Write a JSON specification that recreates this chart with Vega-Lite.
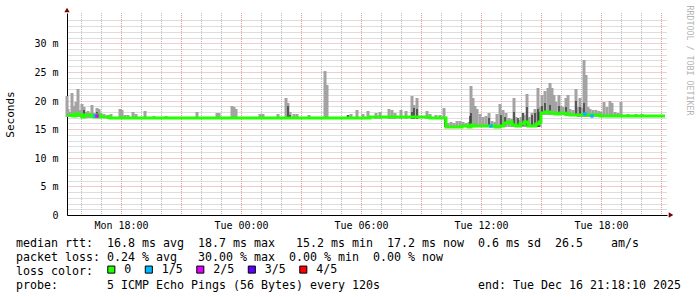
{
  "$schema": "https://vega.github.io/schema/vega-lite/v6.json",
  "width": 600,
  "height": 202,
  "autosize": {"type": "none"},
  "padding": {"left": 67, "top": 13, "right": 30, "bottom": 82},
  "background": "white",
  "config": {"view": {"stroke": null}},
  "title": {
    "text": [
      "median rtt:\u00a0\u00a016.8 ms avg\u00a0\u00a018.7 ms max\u00a0\u00a0\u00a015.2 ms min\u00a0\u00a017.2 ms now\u00a0\u00a00.6 ms sd\u00a0\u00a026.5\u00a0\u00a0\u00a0\u00a0am/s",
      "packet loss: 0.24 % avg\u00a0\u00a0\u00a030.00 % max\u00a0\u00a00.00 % min\u00a0\u00a00.00 % now",
      "loss color:",
      "probe:\u00a0\u00a0\u00a0\u00a0\u00a0\u00a0\u00a05 ICMP Echo Pings (56 Bytes) every 120s\u00a0\u00a0\u00a0\u00a0\u00a0\u00a0\u00a0\u00a0\u00a0\u00a0\u00a0\u00a0\u00a0\u00a0end: Tue Dec 16 21:18:10 2025"
    ],
    "orient": "bottom",
    "anchor": "start",
    "frame": "group",
    "dx": -51,
    "offset": -29,
    "font": "DejaVu Sans Mono",
    "fontSize": 11.63,
    "fontWeight": "normal",
    "color": "#000000",
    "lineHeight": 14,
    "baseline": "alphabetic"
  },
  "datasets": {
    "hourGrid": [
      {"t": "2025-12-15T16:00"}, {"t": "2025-12-15T17:00"}, {"t": "2025-12-15T18:00"}, {"t": "2025-12-15T19:00"},
      {"t": "2025-12-15T20:00"}, {"t": "2025-12-15T21:00"}, {"t": "2025-12-15T22:00"}, {"t": "2025-12-15T23:00"},
      {"t": "2025-12-16T00:00"}, {"t": "2025-12-16T01:00"}, {"t": "2025-12-16T02:00"}, {"t": "2025-12-16T03:00"},
      {"t": "2025-12-16T04:00"}, {"t": "2025-12-16T05:00"}, {"t": "2025-12-16T06:00"}, {"t": "2025-12-16T07:00"},
      {"t": "2025-12-16T08:00"}, {"t": "2025-12-16T09:00"}, {"t": "2025-12-16T10:00"}, {"t": "2025-12-16T11:00"},
      {"t": "2025-12-16T12:00"}, {"t": "2025-12-16T13:00"}, {"t": "2025-12-16T14:00"}, {"t": "2025-12-16T15:00"},
      {"t": "2025-12-16T16:00"}, {"t": "2025-12-16T17:00"}, {"t": "2025-12-16T18:00"}, {"t": "2025-12-16T19:00"},
      {"t": "2025-12-16T20:00"}, {"t": "2025-12-16T21:00"}
    ],
    "majorGrid": [
      {"t": "2025-12-15T18:00"}, {"t": "2025-12-15T21:00"}, {"t": "2025-12-16T00:00"}, {"t": "2025-12-16T03:00"},
      {"t": "2025-12-16T06:00"}, {"t": "2025-12-16T09:00"}, {"t": "2025-12-16T12:00"}, {"t": "2025-12-16T15:00"},
      {"t": "2025-12-16T18:00"}, {"t": "2025-12-16T21:00"}
    ],
    "med": [
      {"t": "2025-12-15T15:18", "v": 17.4},
      {"t": "2025-12-15T15:27", "v": 17.5},
      {"t": "2025-12-15T15:36", "v": 17.3},
      {"t": "2025-12-15T15:45", "v": 17.6},
      {"t": "2025-12-15T15:54", "v": 17.4},
      {"t": "2025-12-15T16:03", "v": 17.2},
      {"t": "2025-12-15T16:12", "v": 17.4},
      {"t": "2025-12-15T16:21", "v": 17.5},
      {"t": "2025-12-15T16:30", "v": 17.3},
      {"t": "2025-12-15T16:39", "v": 17.2},
      {"t": "2025-12-15T16:48", "v": 17.4},
      {"t": "2025-12-15T16:57", "v": 17.2},
      {"t": "2025-12-15T17:09", "v": 17.1},
      {"t": "2025-12-15T17:27", "v": 17.0},
      {"t": "2025-12-15T18:27", "v": 16.95},
      {"t": "2025-12-15T19:57", "v": 17.0},
      {"t": "2025-12-15T21:27", "v": 16.95},
      {"t": "2025-12-15T22:57", "v": 17.0},
      {"t": "2025-12-16T00:27", "v": 16.95},
      {"t": "2025-12-16T01:57", "v": 17.0},
      {"t": "2025-12-16T03:27", "v": 16.95},
      {"t": "2025-12-16T04:57", "v": 17.0},
      {"t": "2025-12-16T06:27", "v": 17.05},
      {"t": "2025-12-16T07:57", "v": 17.1},
      {"t": "2025-12-16T09:27", "v": 17.0},
      {"t": "2025-12-16T10:15", "v": 15.45},
      {"t": "2025-12-16T10:42", "v": 15.4},
      {"t": "2025-12-16T11:03", "v": 15.5},
      {"t": "2025-12-16T11:21", "v": 15.4},
      {"t": "2025-12-16T11:30", "v": 15.8},
      {"t": "2025-12-16T11:39", "v": 15.6},
      {"t": "2025-12-16T11:57", "v": 15.5},
      {"t": "2025-12-16T12:15", "v": 15.6},
      {"t": "2025-12-16T12:27", "v": 15.5},
      {"t": "2025-12-16T12:42", "v": 15.4},
      {"t": "2025-12-16T12:57", "v": 15.5},
      {"t": "2025-12-16T13:09", "v": 16.0},
      {"t": "2025-12-16T13:21", "v": 16.3},
      {"t": "2025-12-16T13:33", "v": 15.8},
      {"t": "2025-12-16T13:45", "v": 15.5},
      {"t": "2025-12-16T13:57", "v": 15.9},
      {"t": "2025-12-16T14:09", "v": 16.2},
      {"t": "2025-12-16T14:21", "v": 15.6},
      {"t": "2025-12-16T14:33", "v": 15.5},
      {"t": "2025-12-16T14:45", "v": 15.9},
      {"t": "2025-12-16T14:54", "v": 16.2},
      {"t": "2025-12-16T15:00", "v": 17.9},
      {"t": "2025-12-16T15:12", "v": 18.0},
      {"t": "2025-12-16T15:27", "v": 17.9},
      {"t": "2025-12-16T15:42", "v": 17.7},
      {"t": "2025-12-16T15:57", "v": 17.9},
      {"t": "2025-12-16T16:12", "v": 17.6},
      {"t": "2025-12-16T16:27", "v": 17.5},
      {"t": "2025-12-16T16:42", "v": 17.5},
      {"t": "2025-12-16T16:57", "v": 17.4},
      {"t": "2025-12-16T17:12", "v": 17.5},
      {"t": "2025-12-16T17:27", "v": 17.4},
      {"t": "2025-12-16T17:57", "v": 17.3},
      {"t": "2025-12-16T18:57", "v": 17.35},
      {"t": "2025-12-16T19:57", "v": 17.3},
      {"t": "2025-12-16T20:42", "v": 17.25},
      {"t": "2025-12-16T21:12", "v": 17.25}
    ],
    "loss": [
      {"t": "2025-12-15T16:42", "v": 17.3, "loss": "1/5"},
      {"t": "2025-12-15T16:48", "v": 17.3, "loss": "2/5"},
      {"t": "2025-12-16T12:30", "v": 15.6, "loss": "1/5"},
      {"t": "2025-12-16T17:12", "v": 17.7, "loss": "1/5"},
      {"t": "2025-12-16T17:33", "v": 17.3, "loss": "1/5"}
    ],
    "smoke": [
      {"t": "2025-12-15T15:18", "lo": 17.1, "hi": 20.8},
      {"t": "2025-12-15T15:21", "lo": 17.1, "hi": 18.5},
      {"t": "2025-12-15T15:27", "lo": 17.1, "hi": 18.0},
      {"t": "2025-12-15T15:33", "lo": 17.1, "hi": 21.3},
      {"t": "2025-12-15T15:39", "lo": 17.1, "hi": 19.0},
      {"t": "2025-12-15T15:45", "lo": 17.1, "hi": 19.8},
      {"t": "2025-12-15T15:51", "lo": 17.1, "hi": 22.0},
      {"t": "2025-12-15T15:57", "lo": 17.1, "hi": 18.3},
      {"t": "2025-12-15T16:03", "lo": 17.0, "hi": 19.4},
      {"t": "2025-12-15T16:09", "lo": 17.0, "hi": 18.8},
      {"t": "2025-12-15T16:15", "lo": 17.0, "hi": 18.0},
      {"t": "2025-12-15T16:21", "lo": 17.0, "hi": 18.2},
      {"t": "2025-12-15T16:27", "lo": 17.0, "hi": 17.8},
      {"t": "2025-12-15T16:33", "lo": 17.0, "hi": 19.25},
      {"t": "2025-12-15T16:39", "lo": 17.0, "hi": 17.9},
      {"t": "2025-12-15T16:48", "lo": 17.0, "hi": 18.7},
      {"t": "2025-12-15T16:54", "lo": 17.0, "hi": 18.5},
      {"t": "2025-12-15T17:00", "lo": 16.9, "hi": 17.9},
      {"t": "2025-12-15T17:09", "lo": 16.9, "hi": 17.6},
      {"t": "2025-12-15T17:21", "lo": 16.8, "hi": 17.5},
      {"t": "2025-12-15T17:30", "lo": 16.8, "hi": 17.6},
      {"t": "2025-12-15T17:57", "lo": 16.8, "hi": 18.6},
      {"t": "2025-12-15T18:03", "lo": 16.8, "hi": 18.3},
      {"t": "2025-12-15T18:12", "lo": 16.8, "hi": 17.5},
      {"t": "2025-12-15T18:21", "lo": 16.8, "hi": 17.4},
      {"t": "2025-12-15T18:36", "lo": 16.8, "hi": 17.95},
      {"t": "2025-12-15T18:45", "lo": 16.8, "hi": 17.7},
      {"t": "2025-12-15T19:12", "lo": 16.8, "hi": 18.2},
      {"t": "2025-12-15T19:39", "lo": 16.8, "hi": 17.3},
      {"t": "2025-12-15T20:15", "lo": 16.8, "hi": 17.3},
      {"t": "2025-12-15T21:48", "lo": 16.8, "hi": 18.0},
      {"t": "2025-12-15T22:48", "lo": 16.8, "hi": 17.9},
      {"t": "2025-12-15T22:54", "lo": 16.8, "hi": 17.8},
      {"t": "2025-12-15T23:33", "lo": 16.8, "hi": 19.1},
      {"t": "2025-12-15T23:39", "lo": 16.8, "hi": 18.9},
      {"t": "2025-12-15T23:45", "lo": 16.8, "hi": 18.6},
      {"t": "2025-12-16T00:57", "lo": 16.8, "hi": 17.7},
      {"t": "2025-12-16T01:06", "lo": 16.8, "hi": 17.7},
      {"t": "2025-12-16T01:51", "lo": 16.8, "hi": 17.6},
      {"t": "2025-12-16T02:15", "lo": 16.8, "hi": 20.5},
      {"t": "2025-12-16T02:21", "lo": 16.8, "hi": 19.6},
      {"t": "2025-12-16T02:27", "lo": 16.8, "hi": 18.0},
      {"t": "2025-12-16T02:39", "lo": 16.8, "hi": 17.7},
      {"t": "2025-12-16T02:48", "lo": 16.8, "hi": 17.7},
      {"t": "2025-12-16T03:24", "lo": 16.8, "hi": 17.4},
      {"t": "2025-12-16T04:12", "lo": 16.8, "hi": 25.25},
      {"t": "2025-12-16T04:18", "lo": 16.8, "hi": 22.75},
      {"t": "2025-12-16T05:21", "lo": 16.8, "hi": 17.4},
      {"t": "2025-12-16T05:30", "lo": 16.8, "hi": 17.6},
      {"t": "2025-12-16T05:48", "lo": 16.8, "hi": 18.4},
      {"t": "2025-12-16T06:06", "lo": 16.8, "hi": 17.6},
      {"t": "2025-12-16T06:21", "lo": 16.8, "hi": 18.1},
      {"t": "2025-12-16T06:45", "lo": 16.8, "hi": 17.8},
      {"t": "2025-12-16T06:57", "lo": 16.8, "hi": 18.0},
      {"t": "2025-12-16T07:24", "lo": 16.8, "hi": 18.5},
      {"t": "2025-12-16T07:33", "lo": 16.8, "hi": 18.3},
      {"t": "2025-12-16T07:42", "lo": 16.8, "hi": 17.8},
      {"t": "2025-12-16T08:00", "lo": 16.8, "hi": 18.4},
      {"t": "2025-12-16T08:15", "lo": 16.8, "hi": 18.2},
      {"t": "2025-12-16T08:33", "lo": 16.8, "hi": 20.8},
      {"t": "2025-12-16T08:39", "lo": 16.8, "hi": 19.2},
      {"t": "2025-12-16T08:48", "lo": 16.8, "hi": 20.4},
      {"t": "2025-12-16T09:18", "lo": 16.8, "hi": 18.2},
      {"t": "2025-12-16T09:27", "lo": 16.8, "hi": 17.6},
      {"t": "2025-12-16T09:45", "lo": 16.8, "hi": 17.5},
      {"t": "2025-12-16T09:57", "lo": 16.8, "hi": 17.5},
      {"t": "2025-12-16T10:09", "lo": 16.8, "hi": 18.65},
      {"t": "2025-12-16T10:21", "lo": 15.3, "hi": 16.0},
      {"t": "2025-12-16T10:30", "lo": 15.3, "hi": 16.2},
      {"t": "2025-12-16T10:39", "lo": 15.3, "hi": 16.0},
      {"t": "2025-12-16T10:48", "lo": 15.3, "hi": 16.5},
      {"t": "2025-12-16T10:57", "lo": 15.3, "hi": 16.4},
      {"t": "2025-12-16T11:06", "lo": 15.3, "hi": 16.2},
      {"t": "2025-12-16T11:15", "lo": 15.3, "hi": 16.0},
      {"t": "2025-12-16T11:24", "lo": 15.3, "hi": 16.3},
      {"t": "2025-12-16T11:30", "lo": 15.3, "hi": 22.6},
      {"t": "2025-12-16T11:36", "lo": 15.3, "hi": 20.4},
      {"t": "2025-12-16T11:42", "lo": 15.3, "hi": 19.0},
      {"t": "2025-12-16T11:48", "lo": 15.3, "hi": 18.5},
      {"t": "2025-12-16T11:57", "lo": 15.3, "hi": 17.7},
      {"t": "2025-12-16T12:06", "lo": 15.3, "hi": 17.2},
      {"t": "2025-12-16T12:15", "lo": 15.3, "hi": 17.3},
      {"t": "2025-12-16T12:24", "lo": 15.3, "hi": 17.8},
      {"t": "2025-12-16T12:33", "lo": 15.3, "hi": 16.5},
      {"t": "2025-12-16T12:42", "lo": 15.3, "hi": 16.3},
      {"t": "2025-12-16T12:48", "lo": 15.3, "hi": 17.7},
      {"t": "2025-12-16T12:57", "lo": 15.3, "hi": 19.4},
      {"t": "2025-12-16T13:06", "lo": 15.3, "hi": 18.4},
      {"t": "2025-12-16T13:15", "lo": 15.3, "hi": 17.8},
      {"t": "2025-12-16T13:24", "lo": 15.3, "hi": 16.9},
      {"t": "2025-12-16T13:33", "lo": 15.3, "hi": 16.8},
      {"t": "2025-12-16T13:39", "lo": 15.3, "hi": 20.4},
      {"t": "2025-12-16T13:45", "lo": 15.3, "hi": 17.2},
      {"t": "2025-12-16T13:54", "lo": 15.3, "hi": 16.6},
      {"t": "2025-12-16T14:00", "lo": 15.3, "hi": 17.2},
      {"t": "2025-12-16T14:06", "lo": 15.3, "hi": 17.8},
      {"t": "2025-12-16T14:12", "lo": 15.3, "hi": 17.4},
      {"t": "2025-12-16T14:18", "lo": 15.3, "hi": 21.1},
      {"t": "2025-12-16T14:24", "lo": 15.3, "hi": 17.2},
      {"t": "2025-12-16T14:33", "lo": 15.3, "hi": 17.9},
      {"t": "2025-12-16T14:42", "lo": 15.3, "hi": 18.55},
      {"t": "2025-12-16T14:48", "lo": 15.3, "hi": 18.0},
      {"t": "2025-12-16T14:51", "lo": 15.3, "hi": 22.2},
      {"t": "2025-12-16T14:57", "lo": 15.3, "hi": 18.9},
      {"t": "2025-12-16T15:03", "lo": 17.5, "hi": 21.0},
      {"t": "2025-12-16T15:12", "lo": 17.5, "hi": 21.6},
      {"t": "2025-12-16T15:21", "lo": 17.5, "hi": 22.2},
      {"t": "2025-12-16T15:27", "lo": 17.5, "hi": 23.05},
      {"t": "2025-12-16T15:33", "lo": 17.5, "hi": 22.2},
      {"t": "2025-12-16T15:39", "lo": 17.5, "hi": 21.0},
      {"t": "2025-12-16T15:45", "lo": 17.5, "hi": 19.8},
      {"t": "2025-12-16T15:54", "lo": 17.5, "hi": 21.0},
      {"t": "2025-12-16T16:00", "lo": 17.4, "hi": 19.0},
      {"t": "2025-12-16T16:06", "lo": 17.4, "hi": 18.9},
      {"t": "2025-12-16T16:15", "lo": 17.3, "hi": 20.4},
      {"t": "2025-12-16T16:21", "lo": 17.3, "hi": 21.0},
      {"t": "2025-12-16T16:27", "lo": 17.3, "hi": 18.6},
      {"t": "2025-12-16T16:36", "lo": 17.3, "hi": 18.4},
      {"t": "2025-12-16T16:45", "lo": 17.3, "hi": 22.0},
      {"t": "2025-12-16T16:51", "lo": 17.2, "hi": 18.9},
      {"t": "2025-12-16T16:57", "lo": 17.2, "hi": 20.4},
      {"t": "2025-12-16T17:03", "lo": 17.2, "hi": 18.7},
      {"t": "2025-12-16T17:09", "lo": 17.2, "hi": 27.0},
      {"t": "2025-12-16T17:15", "lo": 17.2, "hi": 24.5},
      {"t": "2025-12-16T17:21", "lo": 17.1, "hi": 18.9},
      {"t": "2025-12-16T17:27", "lo": 17.1, "hi": 18.6},
      {"t": "2025-12-16T17:36", "lo": 17.1, "hi": 18.4},
      {"t": "2025-12-16T17:45", "lo": 17.1, "hi": 18.4},
      {"t": "2025-12-16T17:54", "lo": 17.1, "hi": 18.1},
      {"t": "2025-12-16T18:00", "lo": 17.1, "hi": 18.0},
      {"t": "2025-12-16T18:09", "lo": 17.1, "hi": 19.8},
      {"t": "2025-12-16T18:18", "lo": 17.1, "hi": 18.9},
      {"t": "2025-12-16T18:27", "lo": 17.1, "hi": 20.0},
      {"t": "2025-12-16T18:33", "lo": 17.1, "hi": 19.5},
      {"t": "2025-12-16T18:42", "lo": 17.1, "hi": 18.0},
      {"t": "2025-12-16T18:51", "lo": 17.1, "hi": 17.8},
      {"t": "2025-12-16T19:00", "lo": 17.1, "hi": 19.8},
      {"t": "2025-12-16T19:09", "lo": 17.1, "hi": 17.5},
      {"t": "2025-12-16T19:21", "lo": 17.1, "hi": 17.7},
      {"t": "2025-12-16T19:45", "lo": 17.1, "hi": 17.6},
      {"t": "2025-12-16T20:03", "lo": 17.1, "hi": 17.6}
    ],
    "dark": [
      {"t": "2025-12-15T16:09", "lo": 17.0, "hi": 18.3},
      {"t": "2025-12-15T16:48", "lo": 17.0, "hi": 18.0},
      {"t": "2025-12-16T02:21", "lo": 16.8, "hi": 19.0},
      {"t": "2025-12-16T02:27", "lo": 16.8, "hi": 17.5},
      {"t": "2025-12-16T05:21", "lo": 16.8, "hi": 17.4},
      {"t": "2025-12-16T08:33", "lo": 16.8, "hi": 18.0},
      {"t": "2025-12-16T08:39", "lo": 16.8, "hi": 18.65},
      {"t": "2025-12-16T08:48", "lo": 16.8, "hi": 18.6},
      {"t": "2025-12-16T10:12", "lo": 15.3, "hi": 17.0},
      {"t": "2025-12-16T10:15", "lo": 15.3, "hi": 17.0},
      {"t": "2025-12-16T11:27", "lo": 15.4, "hi": 17.3},
      {"t": "2025-12-16T11:30", "lo": 15.4, "hi": 17.8},
      {"t": "2025-12-16T12:24", "lo": 15.4, "hi": 17.0},
      {"t": "2025-12-16T13:00", "lo": 15.5, "hi": 17.5},
      {"t": "2025-12-16T13:12", "lo": 15.8, "hi": 17.2},
      {"t": "2025-12-16T13:39", "lo": 15.5, "hi": 18.0},
      {"t": "2025-12-16T13:51", "lo": 15.6, "hi": 17.0},
      {"t": "2025-12-16T14:06", "lo": 15.6, "hi": 17.8},
      {"t": "2025-12-16T14:18", "lo": 15.5, "hi": 18.9},
      {"t": "2025-12-16T14:33", "lo": 15.5, "hi": 17.5},
      {"t": "2025-12-16T14:42", "lo": 15.6, "hi": 17.8},
      {"t": "2025-12-16T14:51", "lo": 15.3, "hi": 18.5},
      {"t": "2025-12-16T14:54", "lo": 15.3, "hi": 18.0},
      {"t": "2025-12-16T15:03", "lo": 17.6, "hi": 19.0},
      {"t": "2025-12-16T15:12", "lo": 17.7, "hi": 19.5},
      {"t": "2025-12-16T15:27", "lo": 17.7, "hi": 19.2},
      {"t": "2025-12-16T15:54", "lo": 17.6, "hi": 19.0},
      {"t": "2025-12-16T16:15", "lo": 17.5, "hi": 18.9},
      {"t": "2025-12-16T16:45", "lo": 17.5, "hi": 20.0},
      {"t": "2025-12-16T16:57", "lo": 17.4, "hi": 18.9},
      {"t": "2025-12-16T17:09", "lo": 17.4, "hi": 19.5}
    ],
    "arrowUp": [
      {"t": "2025-12-15T15:18:10", "v": 35.8}
    ],
    "arrowRight": [
      {"t": "2025-12-16T21:30:10", "v": 0}
    ]
  },
  "encoding": {
    "x": {
      "field": "t",
      "type": "temporal",
      "scale": {
        "domain": [
          {"year": 2025, "month": 12, "date": 15, "hours": 15, "minutes": 18, "seconds": 10},
          {"year": 2025, "month": 12, "date": 16, "hours": 21, "minutes": 18, "seconds": 10}
        ],
        "nice": false,
        "round": true
      },
      "axis": {
        "title": null,
        "tickCount": "hour",
        "format": "%a %H:%M",
        "labelExpr": "hours(datum.value) % 6 == 0 ? datum.label : ''",
        "labelOverlap": false,
        "labelFlush": false,
        "labelBound": false,
        "labelFont": "DejaVu Sans Mono",
        "labelFontSize": 10,
        "labelColor": "#000000",
        "labelPadding": 5,
        "ticks": false,
        "domainColor": "#000000",
        "domainWidth": 1,
        "grid": false
      }
    }
  },
  "layer": [
    {
      "data": {"name": "hourGrid"},
      "mark": {"type": "rule", "strokeWidth": 1, "strokeDash": [1, 1], "color": "#bdbdbd", "xOffset": 0.5},
      "encoding": {}
    },
    {
      "data": {"name": "majorGrid"},
      "mark": {"type": "rule", "strokeWidth": 1, "strokeDash": [1, 1], "color": "#e29a9a", "xOffset": 0.5},
      "encoding": {}
    },
    {
      "data": {"name": "smoke"},
      "mark": {"type": "rule", "strokeWidth": 3, "color": "#a3a3a3"},
      "encoding": {
        "y": {
          "field": "lo",
          "type": "quantitative",
          "scale": {"domain": [0, 35.3], "nice": false, "round": true},
          "axis": {
            "orient": "left",
            "title": "Seconds",
            "titleFont": "DejaVu Sans Mono",
            "titleFontSize": 11,
            "titleFontWeight": "normal",
            "titleColor": "#000000",
            "titleAngle": 270,
            "titleAlign": "center",
            "titleBaseline": "middle",
            "titleX": -56.3,
            "titleY": 101,
            "values": [0,1,2,3,4,5,6,7,8,9,10,11,12,13,14,15,16,17,18,19,20,21,22,23,24,25,26,27,28,29,30,31,32,33,34],
            "labelExpr": "datum.value == 0 ? '0' : (datum.value % 5 == 0 ? datum.value + ' m' : '')",
            "labelOverlap": false,
            "labelFont": "DejaVu Sans Mono",
            "labelFontSize": 10,
            "labelColor": "#000000",
            "labelPadding": 9,
            "ticks": false,
            "domainColor": "#000000",
            "domainWidth": 1,
            "grid": true,
            "gridColor": {"condition": {"test": "datum.value % 5 == 0", "value": "#e29a9a"}, "value": "#bdbdbd"},
            "gridDash": [1, 1],
            "gridWidth": 1
          }
        },
        "y2": {"field": "hi"}
      }
    },
    {
      "data": {"name": "dark"},
      "mark": {"type": "rule", "strokeWidth": 1.5, "color": "#3c3c3c"},
      "encoding": {
        "y": {"field": "lo", "type": "quantitative", "axis": null},
        "y2": {"field": "hi"}
      }
    },
    {
      "data": {"name": "med"},
      "mark": {"type": "line", "interpolate": "step-after", "strokeWidth": 3, "color": "#22ff00", "strokeCap": "butt"},
      "encoding": {
        "y": {"field": "v", "type": "quantitative", "axis": null}
      }
    },
    {
      "data": {"name": "loss"},
      "mark": {"type": "point", "shape": "square", "filled": true, "size": 12, "opacity": 1},
      "encoding": {
        "y": {"field": "v", "type": "quantitative", "axis": null},
        "color": {
          "field": "loss",
          "type": "nominal",
          "scale": {"domain": ["0", "1/5", "2/5", "3/5", "4/5"], "range": ["#22ff00", "#00b8ff", "#dd00ff", "#5e00ff", "#ff0000"]},
          "legend": {
            "title": null,
            "orient": "none",
            "legendX": 38.5,
            "legendY": 250.5,
            "direction": "horizontal",
            "symbolType": "square",
            "symbolSize": 50,
            "symbolStrokeColor": "#000000",
            "symbolStrokeWidth": 1,
            "symbolOpacity": 1,
            "labelFont": "DejaVu Sans Mono",
            "labelFontSize": 11.63,
            "labelColor": "#000000",
            "labelOffset": 7,
            "columnPadding": 11.5,
            "padding": 0
          }
        }
      }
    },
    {
      "data": {"name": "arrowRight"},
      "mark": {"type": "point", "shape": "triangle-right", "filled": true, "size": 28, "opacity": 1, "color": "#7a0000"},
      "encoding": {
        "y": {"field": "v", "type": "quantitative", "axis": null}
      }
    },
    {
      "data": {"name": "arrowUp"},
      "mark": {"type": "point", "shape": "triangle-up", "filled": true, "size": 28, "opacity": 1, "color": "#7a0000"},
      "encoding": {
        "y": {
          "field": "v",
          "type": "quantitative",
          "axis": {
            "orient": "right",
            "title": "RRDTOOL / TOBI OETIKER",
            "labels": false,
            "ticks": false,
            "domain": false,
            "grid": false,
            "titleAngle": 90,
            "titleFont": "DejaVu Sans Mono",
            "titleFontSize": 8.3,
            "titleFontWeight": "normal",
            "titleColor": "#b4b4b4",
            "titleX": 21,
            "titleY": -8,
            "titleAlign": "left",
            "titleBaseline": "middle"
          }
        }
      }
    }
  ],
  "resolve": {"axis": {"y": "independent"}}
}
